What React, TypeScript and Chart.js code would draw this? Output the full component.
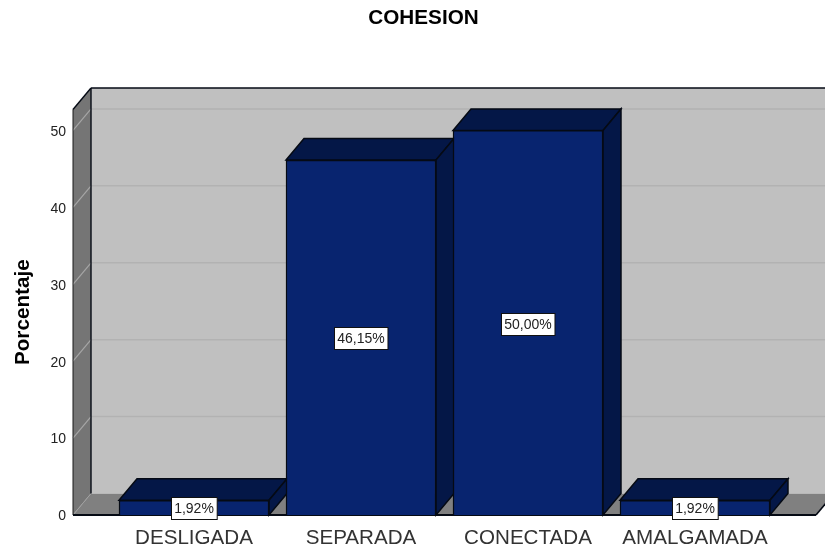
import React, { useEffect, useRef } from "react";
import { Chart, registerables } from "chart.js";

Chart.register(...registerables);

const categories = ["DESLIGADA", "SEPARADA", "CONECTADA", "AMALGAMADA"];
const percentages = [1.92, 46.15, 50.0, 1.92];
const percentLabels = ["1,92%", "46,15%", "50,00%", "1,92%"];
const yTickValues = [0, 10, 20, 30, 40, 50];

const FONT = "'Liberation Sans', Arial, sans-serif";
const DX = 18;
const DY = -21.5;
const FRONT = "#08246F";
const DARK = "#041747";
const EDGE = "#050a14";

function poly(ctx: CanvasRenderingContext2D, pts: number[][], fill?: string, stroke?: string, lw = 1.5) {
  ctx.beginPath();
  pts.forEach((p, i) => (i ? ctx.lineTo(p[0], p[1]) : ctx.moveTo(p[0], p[1])));
  ctx.closePath();
  if (fill) {
    ctx.fillStyle = fill;
    ctx.fill();
  }
  if (stroke) {
    ctx.strokeStyle = stroke;
    ctx.lineWidth = lw;
    ctx.lineJoin = "miter";
    ctx.stroke();
  }
}

function line(ctx: CanvasRenderingContext2D, x1: number, y1: number, x2: number, y2: number, color: string, lw: number) {
  ctx.beginPath();
  ctx.moveTo(x1, y1);
  ctx.lineTo(x2, y2);
  ctx.strokeStyle = color;
  ctx.lineWidth = lw;
  ctx.stroke();
}

const depthPlugin = {
  id: "depth3d",
  beforeDatasetsDraw(chart: any) {
    const { ctx, chartArea: a, scales } = chart;
    const { left: l, right: r, top: t, bottom: b } = a;
    ctx.save();
    // back wall, left wall, floor
    poly(ctx, [[l + DX, t + DY], [r + DX, t + DY], [r + DX, b + DY], [l + DX, b + DY]], "#C0C0C0");
    poly(ctx, [[l, t], [l + DX, t + DY], [l + DX, b + DY], [l, b]], "#757575");
    poly(ctx, [[l, b], [r, b], [r + DX, b + DY], [l + DX, b + DY]], "#808080");
    // gridlines from the value scale
    yTickValues.forEach((v) => {
      const y = scales.y.getPixelForValue(v);
      if (v > 0) {
        line(ctx, l, y, l + DX, y + DY, "#A6A6A6", 1.2);
        line(ctx, l + DX, y + DY, r + DX, y + DY, "#B2B2B2", 1.5);
      } else {
        line(ctx, l, y, l + DX, y + DY, "#A0A0A0", 1);
        line(ctx, l + DX, y + DY, r + DX, y + DY, "#B8B8B8", 1);
      }
    });
    // frame edges
    line(ctx, l + DX, t + DY, l + DX, b + DY, EDGE, 1.4);
    line(ctx, l + DX, t + DY, r + DX, t + DY, EDGE, 1.4);
    line(ctx, l, t, l + DX, t + DY, EDGE, 1.4);
    line(ctx, l, t, l, b, "#1a1a1a", 1);
    line(ctx, l, b, r, b, EDGE, 1.8);
    line(ctx, r, b, r + DX, b + DY, EDGE, 1.6);
    // top and side faces of the bars
    chart.getDatasetMeta(0).data.forEach((bar: any) => {
      const x0 = bar.x - bar.width / 2;
      const x1 = bar.x + bar.width / 2;
      const y0 = bar.y;
      const y1 = bar.base;
      poly(ctx, [[x0, y0], [x1, y0], [x1 + DX, y0 + DY], [x0 + DX, y0 + DY]], DARK, EDGE, 1.5);
      poly(ctx, [[x1, y0], [x1 + DX, y0 + DY], [x1 + DX, y1 + DY], [x1, y1]], DARK, EDGE, 1.5);
    });
    ctx.restore();
  },
  afterDatasetsDraw(chart: any) {
    const { ctx } = chart;
    ctx.save();
    ctx.font = `14px ${FONT}`;
    ctx.textAlign = "center";
    ctx.textBaseline = "middle";
    chart.getDatasetMeta(0).data.forEach((bar: any, i: number) => {
      const text = percentLabels[i];
      const w = ctx.measureText(text).width + 6;
      const h = 22;
      const cy = (bar.y + bar.base) / 2 + 0.8;
      const bx = Math.round(bar.x - w / 2) + 0.5;
      const by = Math.round(cy - h / 2) + 0.5;
      ctx.fillStyle = "#FFFFFF";
      ctx.fillRect(bx, by, w, h);
      ctx.strokeStyle = "#111111";
      ctx.lineWidth = 1;
      ctx.strokeRect(bx, by, w, h);
      ctx.fillStyle = "#222222";
      ctx.fillText(text, bar.x, by + h / 2 + 0.5);
    });
    ctx.restore();
  },
};

export default function App() {
  const ref = useRef<HTMLCanvasElement>(null);
  useEffect(() => {
    const chart = new Chart(ref.current as HTMLCanvasElement, {
      type: "bar",
      data: {
        datasets: [
          {
            label: "Porcentaje",
            data: categories.map((_, i) => ({ x: i, y: percentages[i] })),
            backgroundColor: FRONT,
            borderColor: EDGE,
            borderWidth: 1.5,
            barThickness: 150,
          },
        ],
      },
      options: {
        responsive: false,
        animation: false,
        layout: { padding: { left: 31, right: 9, top: 0, bottom: 0 } },
        plugins: {
          legend: { display: false },
          tooltip: { enabled: false },
          title: {
            display: true,
            text: "COHESION",
            color: "#000000",
            font: { family: FONT, size: 20.7, weight: "bold" },
            padding: { top: 5.6, bottom: 79 },
          },
        },
        scales: {
          x: {
            type: "linear",
            offset: false,
            min: -0.7246,
            max: 3.7246,
            grid: { display: false, drawTicks: false },
            border: { display: false },
            afterBuildTicks: (s: any) => {
              s.ticks = categories.map((_, i) => ({ value: i }));
            },
            afterFit: (s: any) => {
              s.height = 35;
            },
            ticks: {
              autoSkip: false,
              maxRotation: 0,
              padding: 11,
              color: "#333333",
              font: { family: FONT, size: 20.6 },
              callback: (v: any) => categories[v as number],
            },
          },
          y: {
            type: "linear",
            min: 0,
            max: 52.73,
            grid: { display: false, drawTicks: false },
            border: { display: false },
            afterBuildTicks: (s: any) => {
              s.ticks = yTickValues.map((value) => ({ value }));
            },
            afterFit: (s: any) => {
              s.width = 42;
            },
            title: {
              display: true,
              text: "Porcentaje",
              color: "#000000",
              font: { family: FONT, size: 20.7, weight: "bold" },
              padding: { top: -20, bottom: 0 },
            },
            ticks: {
              padding: 7,
              labelOffset: 1.5,
              color: "#222222",
              font: { family: FONT, size: 14 },
            },
          },
        },
      },
      plugins: [depthPlugin],
    } as any);
    return () => chart.destroy();
  }, []);
  return <canvas ref={ref} width={825} height={550} style={{ position: "absolute", left: 0, top: 0 }} />;
}
